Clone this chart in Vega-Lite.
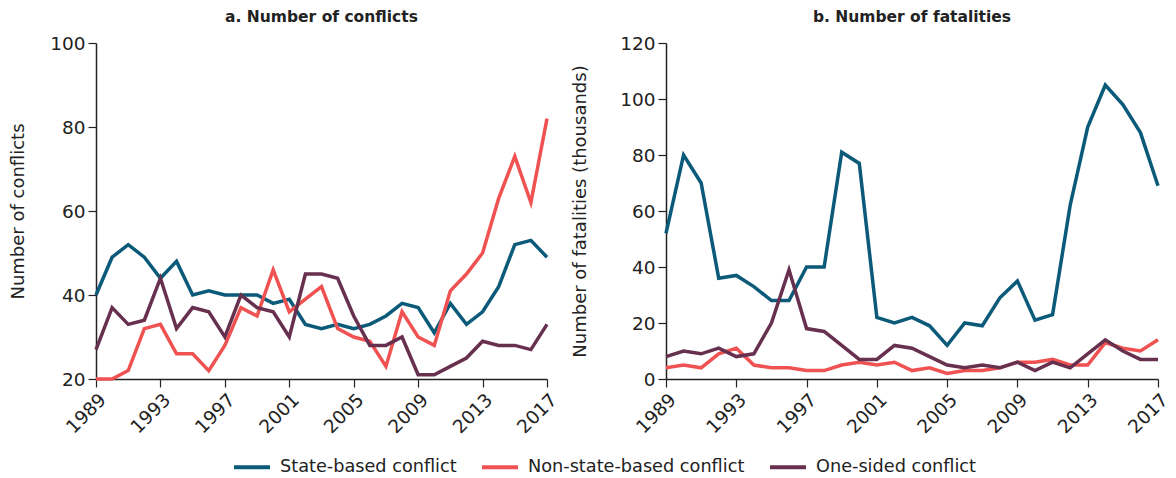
{
  "$schema": "https://vega.github.io/schema/vega-lite/v6.json",
  "padding": {"left": 9, "top": 9, "right": 8, "bottom": 2},
  "config": {
    "font": "DejaVu Sans",
    "view": {"stroke": null},
    "axis": {"labelFont": "DejaVu Sans", "labelFontSize": 18.5, "labelColor": "#222", "titleFont": "DejaVu Sans", "titleFontSize": 18, "titleFontWeight": "normal", "titleColor": "#222", "domainColor": "#222", "tickColor": "#222", "tickSize": 8, "grid": false, "domainWidth": 1.5, "tickWidth": 1.2},
    "title": {"font": "DejaVu Sans", "fontSize": 15.5, "fontWeight": "bold", "color": "#222", "offset": 9},
    "legend": {"labelFontSize": 17.7, "labelFont": "DejaVu Sans", "labelColor": "#222", "symbolType": "stroke", "symbolStrokeWidth": 4, "symbolSize": 1296, "title": null, "columnPadding": 17, "labelOffset": 8, "labelLimit": 400},
    "concat": {"spacing": 10}
  },
  "datasets": {
    "d": [
      {"year":1989,"type":"State-based conflict","conflicts":40,"fatalities":52},
      {"year":1990,"type":"State-based conflict","conflicts":49,"fatalities":80},
      {"year":1991,"type":"State-based conflict","conflicts":52,"fatalities":70},
      {"year":1992,"type":"State-based conflict","conflicts":49,"fatalities":36},
      {"year":1993,"type":"State-based conflict","conflicts":44,"fatalities":37},
      {"year":1994,"type":"State-based conflict","conflicts":48,"fatalities":33},
      {"year":1995,"type":"State-based conflict","conflicts":40,"fatalities":28},
      {"year":1996,"type":"State-based conflict","conflicts":41,"fatalities":28},
      {"year":1997,"type":"State-based conflict","conflicts":40,"fatalities":40},
      {"year":1998,"type":"State-based conflict","conflicts":40,"fatalities":40},
      {"year":1999,"type":"State-based conflict","conflicts":40,"fatalities":81},
      {"year":2000,"type":"State-based conflict","conflicts":38,"fatalities":77},
      {"year":2001,"type":"State-based conflict","conflicts":39,"fatalities":22},
      {"year":2002,"type":"State-based conflict","conflicts":33,"fatalities":20},
      {"year":2003,"type":"State-based conflict","conflicts":32,"fatalities":22},
      {"year":2004,"type":"State-based conflict","conflicts":33,"fatalities":19},
      {"year":2005,"type":"State-based conflict","conflicts":32,"fatalities":12},
      {"year":2006,"type":"State-based conflict","conflicts":33,"fatalities":20},
      {"year":2007,"type":"State-based conflict","conflicts":35,"fatalities":19},
      {"year":2008,"type":"State-based conflict","conflicts":38,"fatalities":29},
      {"year":2009,"type":"State-based conflict","conflicts":37,"fatalities":35},
      {"year":2010,"type":"State-based conflict","conflicts":31,"fatalities":21},
      {"year":2011,"type":"State-based conflict","conflicts":38,"fatalities":23},
      {"year":2012,"type":"State-based conflict","conflicts":33,"fatalities":62},
      {"year":2013,"type":"State-based conflict","conflicts":36,"fatalities":90},
      {"year":2014,"type":"State-based conflict","conflicts":42,"fatalities":105},
      {"year":2015,"type":"State-based conflict","conflicts":52,"fatalities":98},
      {"year":2016,"type":"State-based conflict","conflicts":53,"fatalities":88},
      {"year":2017,"type":"State-based conflict","conflicts":49,"fatalities":69},
      {"year":1989,"type":"Non-state-based conflict","conflicts":20,"fatalities":4},
      {"year":1990,"type":"Non-state-based conflict","conflicts":20,"fatalities":5},
      {"year":1991,"type":"Non-state-based conflict","conflicts":22,"fatalities":4},
      {"year":1992,"type":"Non-state-based conflict","conflicts":32,"fatalities":9},
      {"year":1993,"type":"Non-state-based conflict","conflicts":33,"fatalities":11},
      {"year":1994,"type":"Non-state-based conflict","conflicts":26,"fatalities":5},
      {"year":1995,"type":"Non-state-based conflict","conflicts":26,"fatalities":4},
      {"year":1996,"type":"Non-state-based conflict","conflicts":22,"fatalities":4},
      {"year":1997,"type":"Non-state-based conflict","conflicts":28,"fatalities":3},
      {"year":1998,"type":"Non-state-based conflict","conflicts":37,"fatalities":3},
      {"year":1999,"type":"Non-state-based conflict","conflicts":35,"fatalities":5},
      {"year":2000,"type":"Non-state-based conflict","conflicts":46,"fatalities":6},
      {"year":2001,"type":"Non-state-based conflict","conflicts":36,"fatalities":5},
      {"year":2002,"type":"Non-state-based conflict","conflicts":39,"fatalities":6},
      {"year":2003,"type":"Non-state-based conflict","conflicts":42,"fatalities":3},
      {"year":2004,"type":"Non-state-based conflict","conflicts":32,"fatalities":4},
      {"year":2005,"type":"Non-state-based conflict","conflicts":30,"fatalities":2},
      {"year":2006,"type":"Non-state-based conflict","conflicts":29,"fatalities":3},
      {"year":2007,"type":"Non-state-based conflict","conflicts":23,"fatalities":3},
      {"year":2008,"type":"Non-state-based conflict","conflicts":36,"fatalities":4},
      {"year":2009,"type":"Non-state-based conflict","conflicts":30,"fatalities":6},
      {"year":2010,"type":"Non-state-based conflict","conflicts":28,"fatalities":6},
      {"year":2011,"type":"Non-state-based conflict","conflicts":41,"fatalities":7},
      {"year":2012,"type":"Non-state-based conflict","conflicts":45,"fatalities":5},
      {"year":2013,"type":"Non-state-based conflict","conflicts":50,"fatalities":5},
      {"year":2014,"type":"Non-state-based conflict","conflicts":63,"fatalities":13},
      {"year":2015,"type":"Non-state-based conflict","conflicts":73,"fatalities":11},
      {"year":2016,"type":"Non-state-based conflict","conflicts":62,"fatalities":10},
      {"year":2017,"type":"Non-state-based conflict","conflicts":82,"fatalities":14},
      {"year":1989,"type":"One-sided conflict","conflicts":27,"fatalities":8},
      {"year":1990,"type":"One-sided conflict","conflicts":37,"fatalities":10},
      {"year":1991,"type":"One-sided conflict","conflicts":33,"fatalities":9},
      {"year":1992,"type":"One-sided conflict","conflicts":34,"fatalities":11},
      {"year":1993,"type":"One-sided conflict","conflicts":44,"fatalities":8},
      {"year":1994,"type":"One-sided conflict","conflicts":32,"fatalities":9},
      {"year":1995,"type":"One-sided conflict","conflicts":37,"fatalities":20},
      {"year":1996,"type":"One-sided conflict","conflicts":36,"fatalities":39},
      {"year":1997,"type":"One-sided conflict","conflicts":30,"fatalities":18},
      {"year":1998,"type":"One-sided conflict","conflicts":40,"fatalities":17},
      {"year":1999,"type":"One-sided conflict","conflicts":37,"fatalities":12},
      {"year":2000,"type":"One-sided conflict","conflicts":36,"fatalities":7},
      {"year":2001,"type":"One-sided conflict","conflicts":30,"fatalities":7},
      {"year":2002,"type":"One-sided conflict","conflicts":45,"fatalities":12},
      {"year":2003,"type":"One-sided conflict","conflicts":45,"fatalities":11},
      {"year":2004,"type":"One-sided conflict","conflicts":44,"fatalities":8},
      {"year":2005,"type":"One-sided conflict","conflicts":35,"fatalities":5},
      {"year":2006,"type":"One-sided conflict","conflicts":28,"fatalities":4},
      {"year":2007,"type":"One-sided conflict","conflicts":28,"fatalities":5},
      {"year":2008,"type":"One-sided conflict","conflicts":30,"fatalities":4},
      {"year":2009,"type":"One-sided conflict","conflicts":21,"fatalities":6},
      {"year":2010,"type":"One-sided conflict","conflicts":21,"fatalities":3},
      {"year":2011,"type":"One-sided conflict","conflicts":23,"fatalities":6},
      {"year":2012,"type":"One-sided conflict","conflicts":25,"fatalities":4},
      {"year":2013,"type":"One-sided conflict","conflicts":29,"fatalities":9},
      {"year":2014,"type":"One-sided conflict","conflicts":28,"fatalities":14},
      {"year":2015,"type":"One-sided conflict","conflicts":28,"fatalities":10},
      {"year":2016,"type":"One-sided conflict","conflicts":27,"fatalities":7},
      {"year":2017,"type":"One-sided conflict","conflicts":33,"fatalities":7}
    ]
  },
  "hconcat": [
    {
      "title": "a. Number of conflicts",
      "width": 451,
      "height": 336,
      "data": {"name": "d"},
      "mark": {"type": "line", "strokeWidth": 3.5},
      "encoding": {
        "x": {"field": "year", "type": "quantitative", "scale": {"domain": [1989, 2017], "nice": false, "zero": false}, "axis": {"title": null, "values": [1989,1993,1997,2001,2005,2009,2013,2017], "format": "d", "labelAngle": -45, "labelPadding": 3, "tickSize": 8, "labelFontSize": 18.5}},
        "y": {"field": "conflicts", "type": "quantitative", "scale": {"domain": [20, 100], "nice": false, "zero": false}, "axis": {"title": "Number of conflicts", "values": [20,40,60,80,100], "titlePadding": 22, "tickSize": 8, "labelPadding": 3, "labelFontSize": 18.5, "titleFontSize": 18}},
        "color": {"field": "type", "type": "nominal", "scale": {"domain": ["State-based conflict","Non-state-based conflict","One-sided conflict"], "range": ["#0c5a79","#f05252","#66304e"]}, "legend": {"orient": "none", "direction": "horizontal", "legendX": 136, "legendY": 404}}
      }
    },
    {
      "title": "b. Number of fatalities",
      "width": 492,
      "height": 336,
      "data": {"name": "d"},
      "mark": {"type": "line", "strokeWidth": 3.5},
      "encoding": {
        "x": {"field": "year", "type": "quantitative", "scale": {"domain": [1989, 2017], "nice": false, "zero": false}, "axis": {"title": null, "values": [1989,1993,1997,2001,2005,2009,2013,2017], "format": "d", "labelAngle": -45, "labelPadding": 3, "tickSize": 8, "labelFontSize": 18.5}},
        "y": {"field": "fatalities", "type": "quantitative", "scale": {"domain": [0, 120], "nice": false}, "axis": {"title": "Number of fatalities (thousands)", "values": [0,20,40,60,80,100,120], "titlePadding": 30, "tickSize": 8, "labelPadding": 3, "labelFontSize": 18.5, "titleFontSize": 18}},
        "color": {"field": "type", "type": "nominal", "scale": {"domain": ["State-based conflict","Non-state-based conflict","One-sided conflict"], "range": ["#0c5a79","#f05252","#66304e"]}, "legend": {"orient": "none", "direction": "horizontal", "legendX": 136, "legendY": 404}}
      }
    }
  ]
}
